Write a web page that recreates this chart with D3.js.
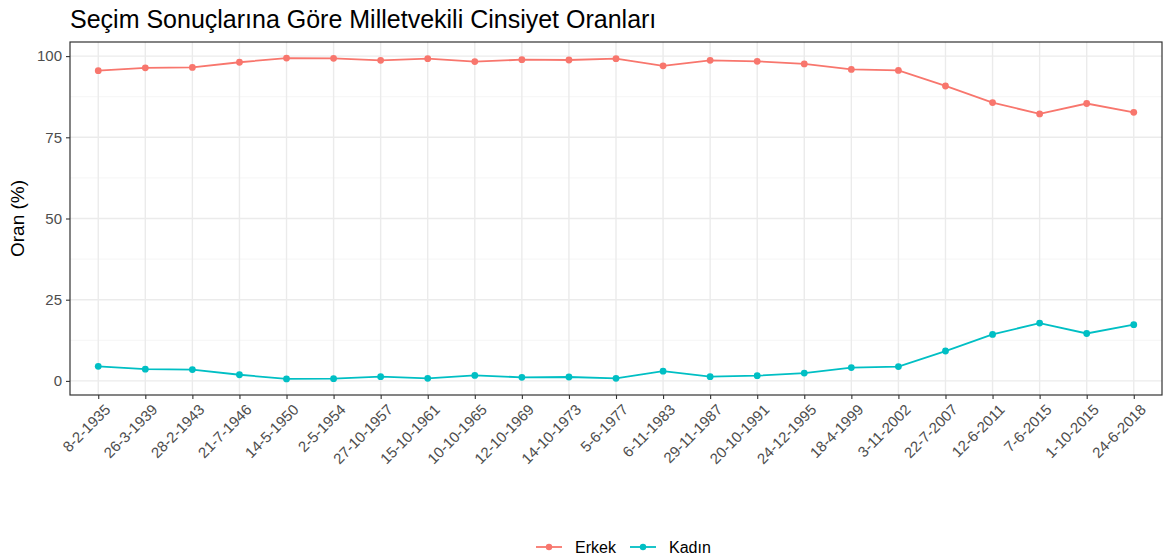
<!DOCTYPE html>
<html>
<head>
<meta charset="utf-8">
<script src="https://cdn.jsdelivr.net/npm/d3@7"></script>
<style>
  body { margin: 0; background: #fff; }
  text { font-family: "Liberation Sans", Arial, sans-serif; }
</style>
</head>
<body>
<svg id="chart" width="1164" height="559"></svg>
<script>
const dates = ["8-2-1935","26-3-1939","28-2-1943","21-7-1946","14-5-1950","2-5-1954","27-10-1957","15-10-1961","10-10-1965","12-10-1969","14-10-1973","5-6-1977","6-11-1983","29-11-1987","20-10-1991","24-12-1995","18-4-1999","3-11-2002","22-7-2007","12-6-2011","7-6-2015","1-10-2015","24-6-2018"];
const kadin = [4.5,3.6,3.5,1.9,0.6,0.7,1.3,0.8,1.7,1.1,1.2,0.8,3.0,1.3,1.6,2.4,4.1,4.4,9.2,14.3,17.8,14.6,17.3];
const erkek = [95.5,96.4,96.5,98.1,99.4,99.3,98.7,99.2,98.3,98.9,98.8,99.2,97.0,98.7,98.4,97.6,95.9,95.6,90.8,85.7,82.2,85.4,82.7];
const seriesNames = ["Erkek","Kadın"];
const seriesColors = ["#F8766D","#00BFC4"];
const yTicks = [0,25,50,75,100];
const yMinor = [12.5,37.5,62.5,87.5];

const svg = d3.select("#chart");
const P = {left: 70, top: 42, right: 1162, bottom: 395};

const x = d3.scalePoint().domain(dates).range([P.left, P.right]).padding(0.6);
const allVals = erkek.concat(kadin);
const lo = d3.min(allVals), hi = d3.max(allVals), ex = (hi - lo) * 0.05;
const y = d3.scaleLinear().domain([lo - ex, hi + ex]).range([P.bottom, P.top]);

// panel background
svg.append("rect").attr("x", P.left).attr("y", P.top)
  .attr("width", P.right - P.left).attr("height", P.bottom - P.top).attr("fill", "#fff");

// minor grid
svg.append("g").selectAll("line").data(yMinor).join("line")
  .attr("x1", P.left).attr("x2", P.right)
  .attr("y1", d => y(d)).attr("y2", d => y(d))
  .attr("stroke", "#F5F5F5").attr("stroke-width", 1);
// major grid
svg.append("g").selectAll("line").data(yTicks).join("line")
  .attr("x1", P.left).attr("x2", P.right)
  .attr("y1", d => y(d)).attr("y2", d => y(d))
  .attr("stroke", "#EBEBEB").attr("stroke-width", 1.4);
svg.append("g").selectAll("line").data(dates).join("line")
  .attr("x1", d => x(d)).attr("x2", d => x(d))
  .attr("y1", P.top).attr("y2", P.bottom)
  .attr("stroke", "#EBEBEB").attr("stroke-width", 1.4);

// series
const series = [erkek, kadin];
series.forEach((vals, i) => {
  const pts = dates.map((d, j) => [x(d), y(vals[j])]);
  svg.append("path").attr("d", d3.line()(pts))
    .attr("fill", "none").attr("stroke", seriesColors[i]).attr("stroke-width", 1.8);
  svg.append("g").selectAll("circle").data(pts).join("circle")
    .attr("cx", d => d[0]).attr("cy", d => d[1]).attr("r", 3.4)
    .attr("fill", seriesColors[i]);
});

// panel border
svg.append("rect").attr("x", P.left).attr("y", P.top)
  .attr("width", P.right - P.left).attr("height", P.bottom - P.top)
  .attr("fill", "none").attr("stroke", "#333333").attr("stroke-width", 1.2);

// y axis
const yAxis = svg.append("g").attr("transform", `translate(${P.left},0)`)
  .call(d3.axisLeft(y).tickValues(yTicks).tickSize(4).tickPadding(4));
yAxis.select(".domain").remove();
yAxis.selectAll("line").attr("stroke", "#333333").attr("stroke-width", 1.1);
yAxis.selectAll("text").attr("fill", "#4D4D4D").style("font-size", "15px")
  .style("font-family", "Liberation Sans, Arial, sans-serif");

// x axis
const xAxis = svg.append("g").attr("transform", `translate(0,${P.bottom})`)
  .call(d3.axisBottom(x).tickSize(4).tickPadding(4));
xAxis.select(".domain").remove();
xAxis.selectAll("line").attr("stroke", "#333333").attr("stroke-width", 1.1);
xAxis.selectAll("text")
  .attr("fill", "#4D4D4D").style("font-size", "15px")
  .style("font-family", "Liberation Sans, Arial, sans-serif")
  .attr("text-anchor", "end")
  .attr("x", 0).attr("y", 0).attr("dy", "0.72em")
  .attr("transform", "translate(5,8) rotate(-45)");

// title
svg.append("text").attr("x", P.left).attr("y", 28)
  .text("Seçim Sonuçlarına Göre Milletvekili Cinsiyet Oranları")
  .attr("fill", "#000").style("font-size", "25px");

// y label
svg.append("text").attr("transform", `translate(24,${(P.top + P.bottom) / 2}) rotate(-90)`)
  .attr("text-anchor", "middle").text("Oran (%)")
  .attr("fill", "#000").style("font-size", "19px");

// legend
const leg = svg.append("g").attr("transform", "translate(536,547)");
const legX = [0, 94];
seriesNames.forEach((n, i) => {
  const g = leg.append("g").attr("transform", `translate(${legX[i]},0)`);
  g.append("line").attr("x1", 0).attr("x2", 26).attr("y1", 0).attr("y2", 0)
    .attr("stroke", seriesColors[i]).attr("stroke-width", 1.8);
  g.append("circle").attr("cx", 13).attr("cy", 0).attr("r", 3.2).attr("fill", seriesColors[i]);
  g.append("text").attr("x", 39).attr("y", 0).attr("dy", "0.36em")
    .text(n).attr("fill", "#000").style("font-size", "16px");
});
</script>
</body>
</html>
